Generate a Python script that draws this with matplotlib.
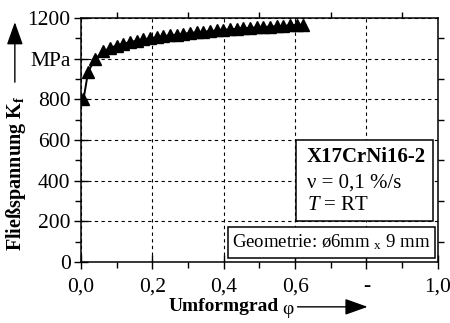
import matplotlib
matplotlib.use('Agg')
import matplotlib.pyplot as plt
from matplotlib.patches import Rectangle, FancyArrowPatch
from matplotlib.ticker import MultipleLocator

plt.rcParams['font.family'] = ['Liberation Serif', 'DejaVu Serif']
plt.rcParams['mathtext.fontset'] = 'custom'
plt.rcParams['mathtext.rm'] = 'Liberation Serif'
plt.rcParams['mathtext.it'] = 'Liberation Serif:italic'
plt.rcParams['mathtext.bf'] = 'Liberation Serif:bold'

# flow curve
phi = [0.007, 0.020, 0.039, 0.063, 0.082, 0.100, 0.119, 0.138, 0.157, 0.175,
       0.194, 0.213, 0.231, 0.250, 0.269, 0.287, 0.306, 0.325, 0.343, 0.362,
       0.381, 0.399, 0.418, 0.437, 0.455, 0.474, 0.493, 0.511, 0.530, 0.549,
       0.567, 0.586, 0.605, 0.622]
kf = [800, 936, 997, 1036, 1053, 1065, 1074, 1082, 1089, 1095,
      1101, 1106, 1111, 1115, 1119, 1123, 1127, 1130, 1133, 1136,
      1139, 1142, 1145, 1147, 1150, 1152, 1154, 1156, 1158, 1160,
      1162, 1164, 1166, 1168]

xticks = [0.0, 0.2, 0.4, 0.6, 0.8, 1.0]
xlabels = ['0,0', '0,2', '0,4', '0,6', '-', '1,0']
yticks = [0, 200, 400, 600, 800, 1000, 1200]
ylabels = ['0', '200', '400', '600', '800', 'MPa', '1200']

fig = plt.figure(figsize=(4.5, 3.23), dpi=100)
ax = fig.add_axes([0.18, 0.189, 0.793, 0.755])

ax.plot(phi, kf, color='black', lw=1.4, marker='^', ms=8.5, zorder=3)

ax.set_xlim(0, 1.0)
ax.set_ylim(0, 1200)
ax.set_xticks(xticks)
ax.set_xticklabels(xlabels)
ax.set_yticks(yticks)
ax.set_yticklabels(ylabels)
ax.xaxis.set_minor_locator(MultipleLocator(0.1))
ax.yaxis.set_minor_locator(MultipleLocator(100))
ax.tick_params(which='major', direction='inout', length=10, width=1, labelsize=15.5)
ax.tick_params(axis='x', which='major', pad=6)
ax.tick_params(axis='y', which='major', pad=2.5)
ax.tick_params(which='minor', direction='out', length=4, width=1)
ax.tick_params(which='minor', top=True, right=True)
for s in ax.spines.values():
    s.set_linewidth(1.1)

ax.grid(True, which='major', color='black', ls=(0, (3, 3)), lw=0.8)
ax.set_axisbelow(True)

# info boxes
ax.add_patch(Rectangle((0.602, 0.168), 0.384, 0.332, transform=ax.transAxes,
                       facecolor='white', edgecolor='black', lw=1.1, zorder=4))
ax.text(0.632, 0.432, 'X17CrNi16-2', transform=ax.transAxes, fontsize=15,
        fontweight='bold', va='center', ha='left', zorder=5)
ax.text(0.632, 0.325, 'ν = 0,1 %/s', transform=ax.transAxes, fontsize=15,
        va='center', ha='left', zorder=5)
ax.text(0.632, 0.232, r'$T$ = RT', transform=ax.transAxes, fontsize=15,
        va='center', ha='left', zorder=5)

ax.add_patch(Rectangle((0.412, 0.016), 0.58, 0.127, transform=ax.transAxes,
                       facecolor='white', edgecolor='black', lw=1.1, zorder=4))
ax.text(0.70, 0.08, r'Geometrie: ø6mm $\mathregular{{}_{x}}$ 9 mm', transform=ax.transAxes,
        fontsize=13.5, va='center', ha='center', zorder=5)

# axis labels with arrows
fig.text(0.036, 0.464, r'Fließspannung K$_{\mathregular{f}}$', rotation=90,
         fontsize=14.5, fontweight='bold', ha='center', va='center')
fig.text(0.62, 0.05, 'Umformgrad', fontsize=14, fontweight='bold',
         ha='right', va='center')
fig.text(0.628, 0.043, 'φ', fontsize=14, ha='left', va='center')
fig.add_artist(FancyArrowPatch(
    (0.033, 0.737), (0.033, 0.94), transform=fig.transFigure,
    arrowstyle='-|>,head_length=7,head_width=2.5', color='black', lw=1, mutation_scale=2))
fig.add_artist(FancyArrowPatch(
    (0.655, 0.05), (0.823, 0.05), transform=fig.transFigure,
    arrowstyle='-|>,head_length=7,head_width=2.5', color='black', lw=1, mutation_scale=2))

fig.savefig('out.png', dpi=100)
